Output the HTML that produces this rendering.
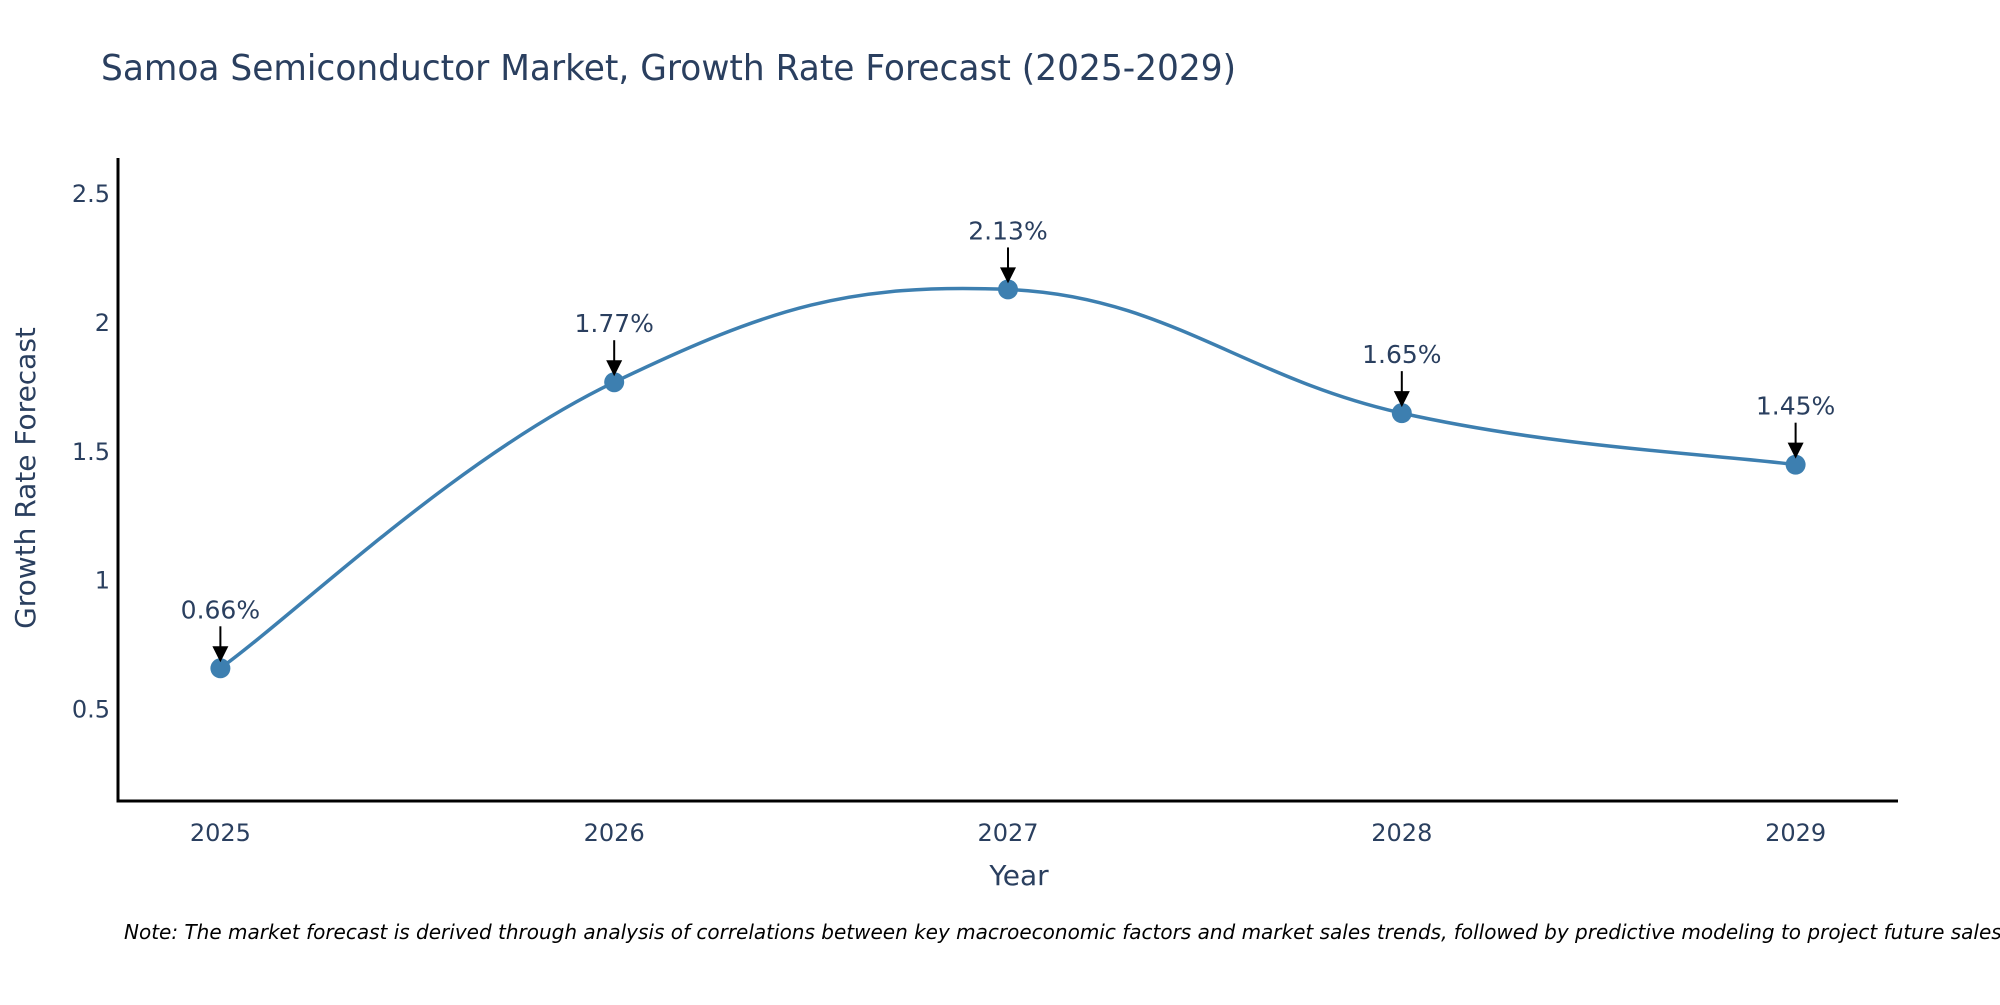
<!DOCTYPE html>
<html><head><meta charset="utf-8"><style>
html,body{margin:0;padding:0;background:#fff;}
svg text{font-family:"DejaVu Sans","Liberation Sans",sans-serif;}
</style></head><body>
<svg id="chart" width="2000" height="1000" viewBox="0 0 2000 1000" xmlns="http://www.w3.org/2000/svg">
<rect width="2000" height="1000" fill="#fff"/>
<text x="101" y="80" font-size="36" fill="#2a3f5f" textLength="1135" lengthAdjust="spacingAndGlyphs">Samoa Semiconductor Market, Growth Rate Forecast (2025-2029)</text>
<g id="plot"></g>
<text x="1019" y="885" font-size="28" fill="#2a3f5f" text-anchor="middle">Year</text>
<text transform="translate(35,478) rotate(-90)" font-size="28" fill="#2a3f5f" text-anchor="middle">Growth Rate Forecast</text>
<text x="124" y="939" font-size="20" font-style="italic" fill="#000">Note: The market forecast is derived through analysis of correlations between key macroeconomic factors and market sales trends, followed by predictive modeling to project future sales.</text>
</svg>
<script>
const years = [2025, 2026, 2027, 2028, 2029];
const growth = [0.66, 1.77, 2.13, 1.65, 1.45];
const labels = ["0.66%", "1.77%", "2.13%", "1.65%", "1.45%"];
const yTicks = [0.5, 1, 1.5, 2, 2.5];
const yTickLabels = ["0.5", "1", "1.5", "2", "2.5"];

const NS = "http://www.w3.org/2000/svg";
const plot = document.getElementById('plot');
const X0 = 118, X1 = 1898, Y0 = 801, Y1 = 158;
const xMin = 2024.74, xMax = 2029.26, yMin = 0.145, yMax = 2.64;
const xs = v => X0 + (v - xMin) / (xMax - xMin) * (X1 - X0);
const ys = v => Y0 - (v - yMin) / (yMax - yMin) * (Y0 - Y1);
function mk(tag, attrs, parent) {
  const e = document.createElementNS(NS, tag);
  for (const k in attrs) e.setAttribute(k, attrs[k]);
  (parent || plot).appendChild(e);
  return e;
}
const ya = mk('line', {x1: X0, y1: Y1, x2: X0, y2: Y0 + 1.5, stroke: '#000', 'stroke-width': 3});


const xa = mk('line', {x1: X0 - 1.5, y1: Y0, x2: X1, y2: Y0, stroke: '#000', 'stroke-width': 3});


yTicks.forEach((t, i) => {
  const e = mk('text', {x: X0 - 8, y: ys(t) + 8, 'font-size': 24, fill: '#2a3f5f', 'text-anchor': 'end'});
  e.textContent = yTickLabels[i];
  
  
});
years.forEach(yr => {
  const e = mk('text', {x: xs(yr), y: Y0 + 40, 'font-size': 24, fill: '#2a3f5f', 'text-anchor': 'middle'});
  e.textContent = String(yr);
  
  
});
const pts = years.map((yr, i) => [xs(yr), ys(growth[i])]);
let d = 'M' + pts[0][0] + ',' + pts[0][1];
const t = 0.2;
for (let i = 0; i < pts.length - 1; i++) {
  const p0 = pts[Math.max(0, i - 1)], p1 = pts[i], p2 = pts[i + 1], p3 = pts[Math.min(pts.length - 1, i + 2)];
  const c1 = [p1[0] + (p2[0] - p0[0]) * t, p1[1] + (p2[1] - p0[1]) * t];
  const c2 = [p2[0] - (p3[0] - p1[0]) * t, p2[1] - (p3[1] - p1[1]) * t];
  d += ` C${c1[0]},${c1[1]} ${c2[0]},${c2[1]} ${p2[0]},${p2[1]}`;
}
const line = mk('path', {d: d, fill: 'none', stroke: '#3d7fb0', 'stroke-width': 3.5});


pts.forEach((p, i) => {
  const c = mk('circle', {cx: p[0], cy: p[1], r: 10, fill: '#3d7fb0'});
  
  
  const a = mk('line', {x1: p[0], y1: p[1] - 42, x2: p[0], y2: p[1] - 18, stroke: '#000', 'stroke-width': 2});
  
  
  const h = mk('polygon', {points: `${p[0]-8},${p[1]-22} ${p[0]+8},${p[1]-22} ${p[0]},${p[1]-6}`, fill: '#000'});
  
  
  const tx = mk('text', {x: p[0], y: p[1] - 50, 'font-size': 25, fill: '#2a3f5f', 'text-anchor': 'middle'});
  tx.textContent = labels[i];
  
  
});
</script>
</body></html>
